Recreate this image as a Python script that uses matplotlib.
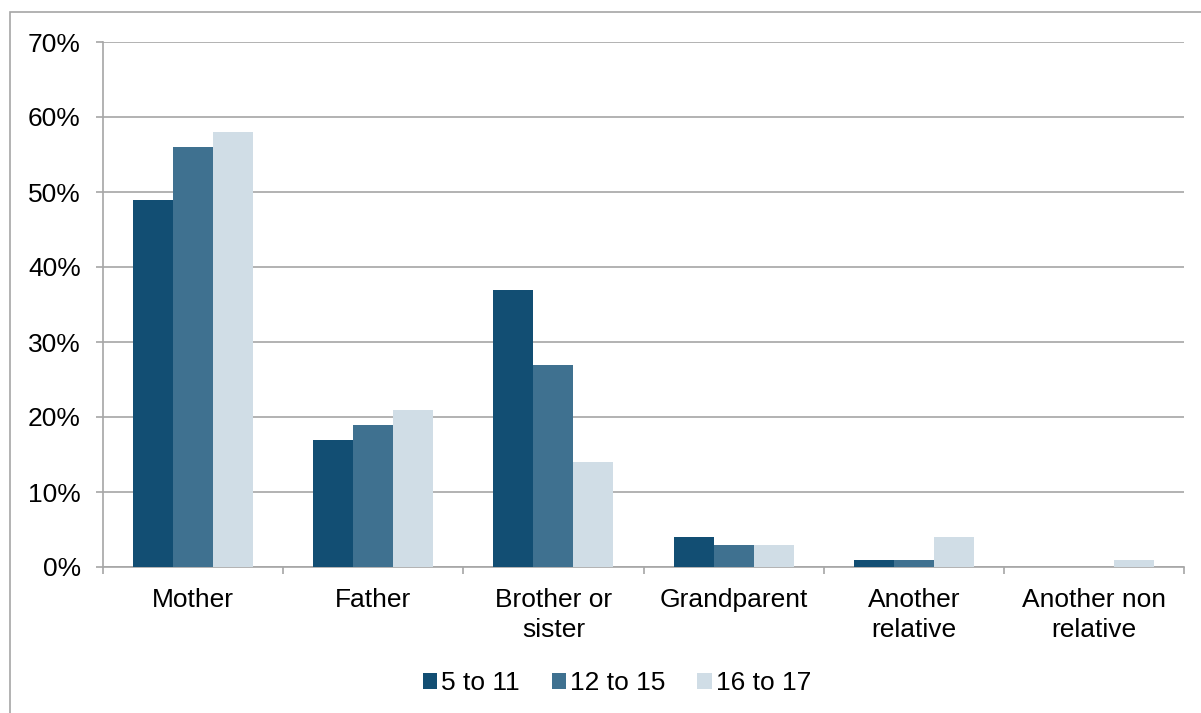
import numpy as np
import matplotlib.pyplot as plt
from matplotlib.patches import Rectangle

plt.rcParams['font.family'] = ['Liberation Sans', 'DejaVu Sans']

categories = ['Mother', 'Father', 'Brother or\nsister', 'Grandparent', 'Another\nrelative', 'Another non\nrelative']
series_names = ['5 to 11', '12 to 15', '16 to 17']
age_5_11 = [49, 17, 37, 4, 1, 0]
age_12_15 = [56, 19, 27, 3, 1, 0]
age_16_17 = [58, 21, 14, 3, 4, 1]
colors = ['#124e73', '#3f7190', '#d0dde6']

fig = plt.figure(figsize=(12.01, 7.13), dpi=100)
ax = fig.add_axes([103/1201, 1-567/713, (1184-103)/1201, (567-42)/713])

# outer frame of the chart area
fig.patches.append(Rectangle((10/1201, -0.1), 1.2, 1-12/713+0.1, transform=fig.transFigure,
                             fill=False, edgecolor='#a6a6a6', linewidth=1.2))

x = np.arange(len(categories))
w = 40/180
for i, vals in enumerate([age_5_11, age_12_15, age_16_17]):
    ax.bar(x + (i-1)*w, vals, width=w, color=colors[i], label=series_names[i], zorder=3)

ax.set_xlim(-0.5, len(categories)-0.5)
ax.set_ylim(0, 70)
ax.set_yticks(np.arange(0, 71, 10))
ax.set_yticklabels([f'{v}%' for v in range(0, 71, 10)])
ax.yaxis.grid(True, color='#a6a6a6', linewidth=1.2, zorder=0)
ax.set_xticks(x)
ax.set_xticklabels(categories, linespacing=1.3)
ax.set_xticks(np.arange(-0.5, len(categories)), minor=True)
ax.tick_params(axis='x', which='major', length=0, pad=15, labelsize=19)
ax.tick_params(axis='x', which='minor', length=5, color='#a6a6a6', width=1.2)
ax.tick_params(axis='y', length=5, color='#a6a6a6', width=1.2, labelsize=19, pad=11)
for s in ['top', 'right']:
    ax.spines[s].set_visible(False)
for s in ['left', 'bottom']:
    ax.spines[s].set_color('#a6a6a6')
    ax.spines[s].set_linewidth(1.2)

ax.legend(loc='center', bbox_to_anchor=(617/1201, 1-683/713), bbox_transform=fig.transFigure,
          ncol=3, frameon=False, fontsize=19, handlelength=0.55, handleheight=0.55,
          handletextpad=0.15, columnspacing=1.2)

fig.savefig('out.png', dpi=100)
